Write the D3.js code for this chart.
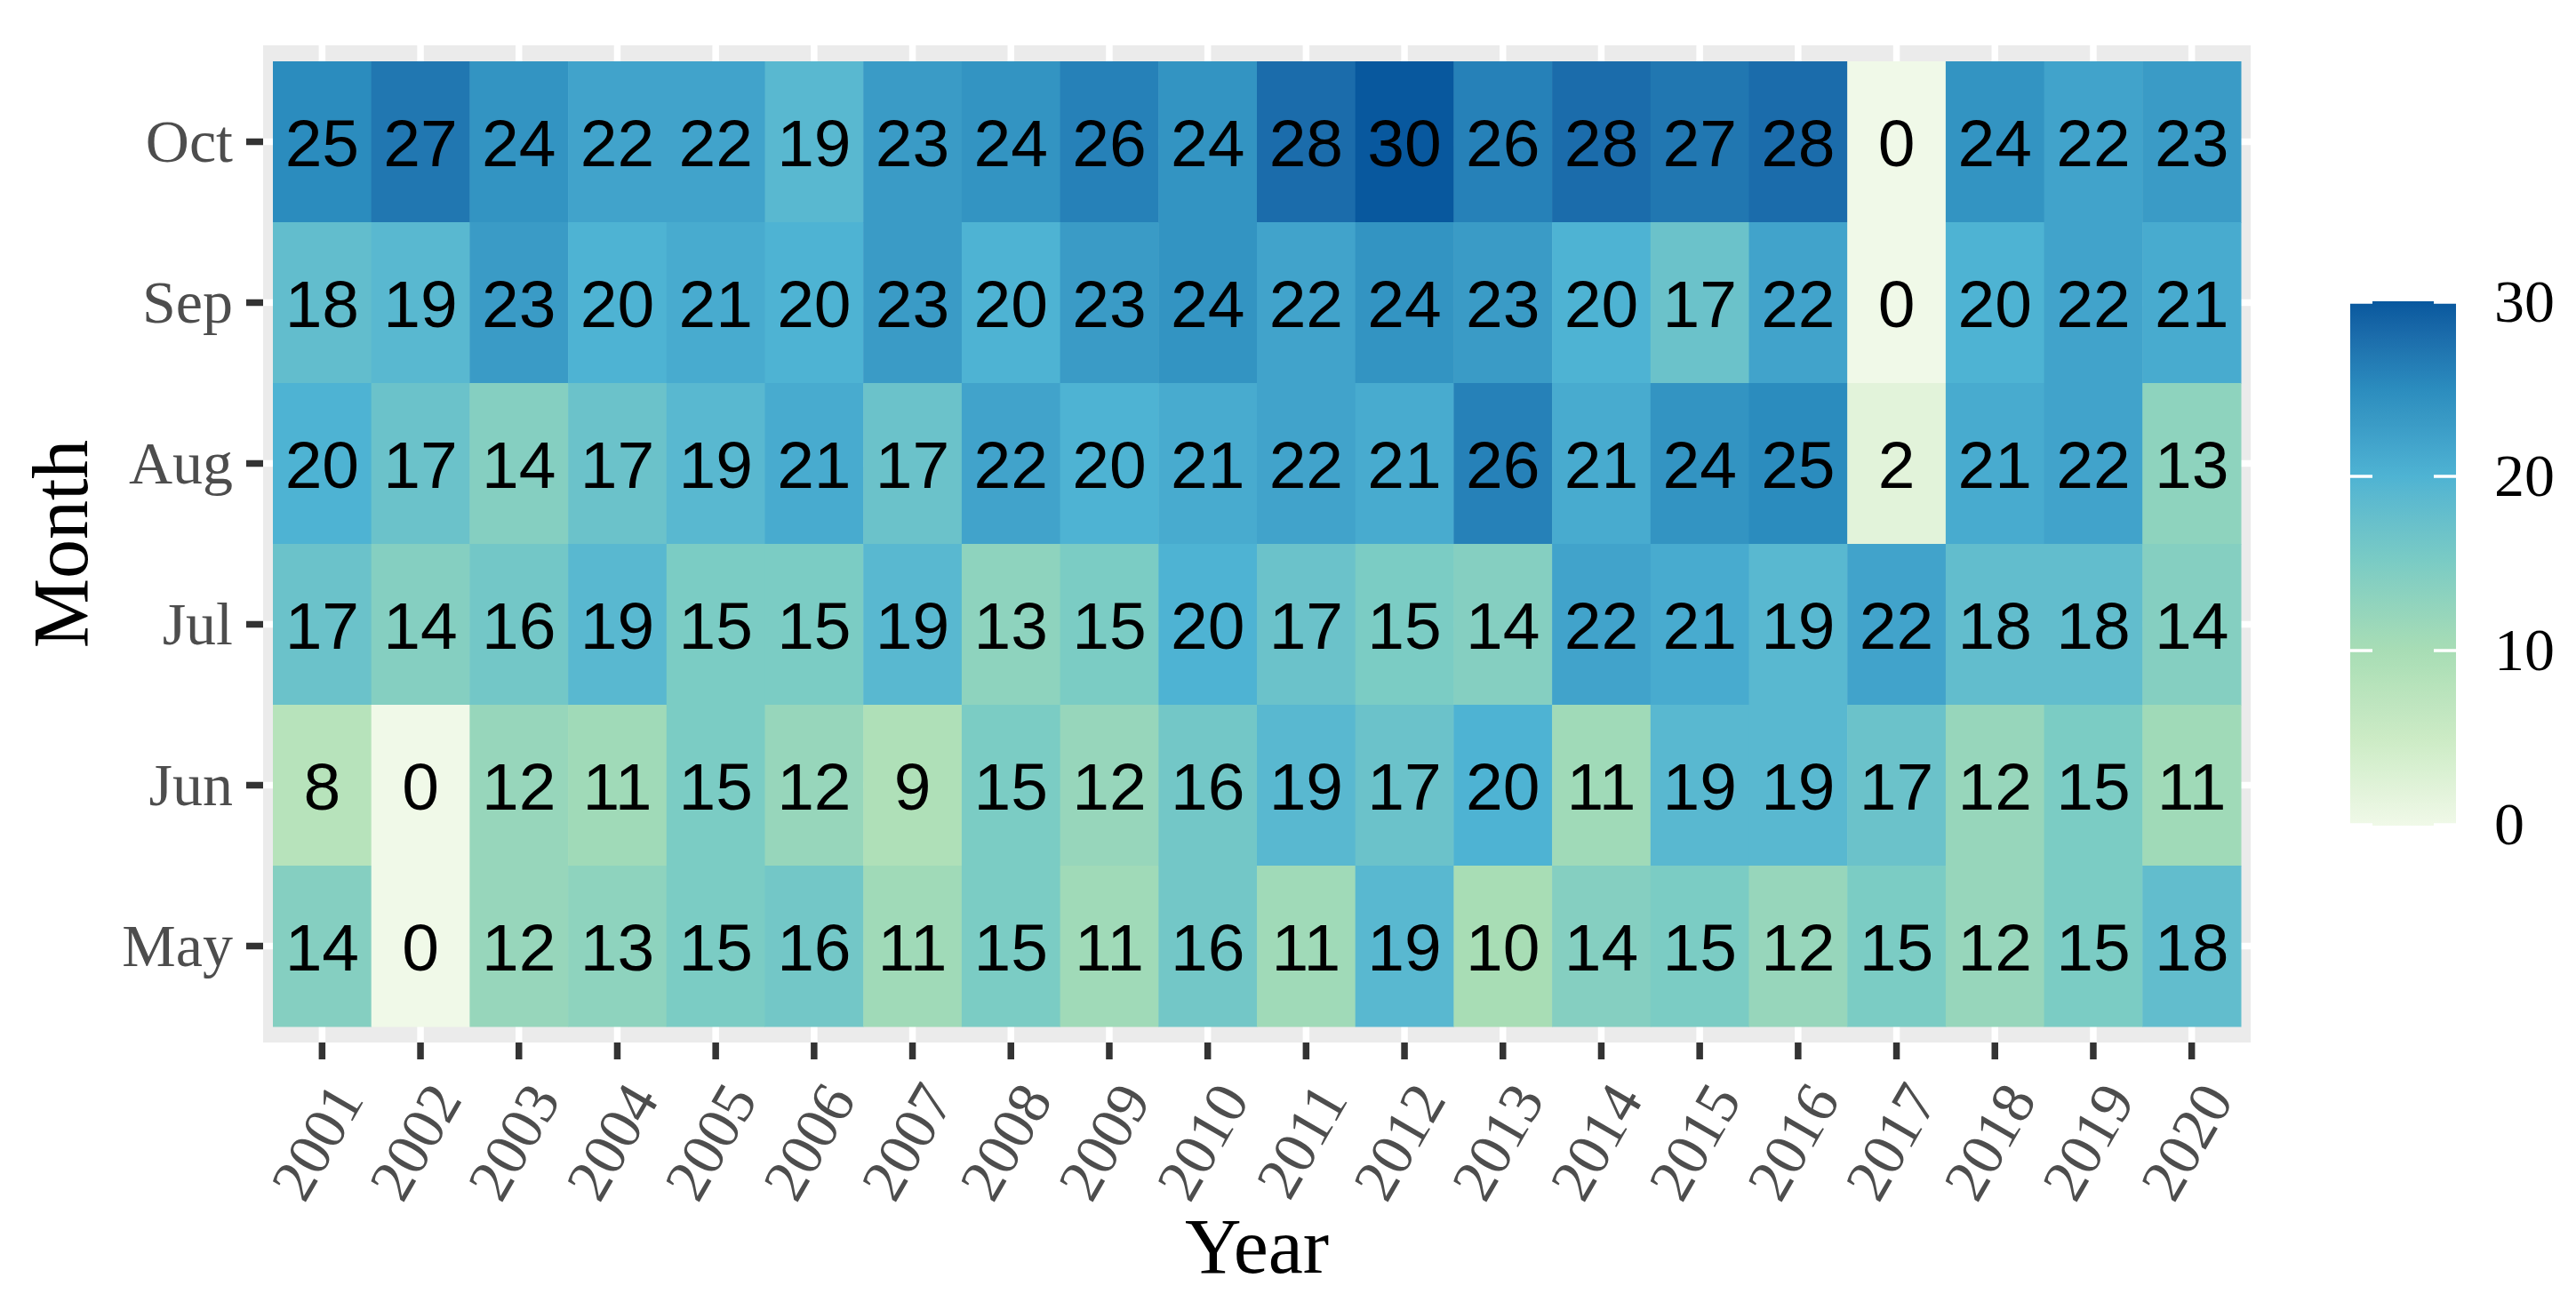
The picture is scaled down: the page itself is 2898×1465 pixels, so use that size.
<!DOCTYPE html>
<html>
<head>
<meta charset="utf-8">
<script src="https://cdn.jsdelivr.net/npm/d3@7"></script>
<style>
	html, body { margin: 0; padding: 0; background: #fff; }
	svg { display: block; }
</style>
</head>
<body>
<svg id="chart" width="2898" height="1465"></svg>
<script>
	// data
	var years = ['2001', '2002', '2003', '2004', '2005', '2006', '2007', '2008', '2009', '2010',
		'2011', '2012', '2013', '2014', '2015', '2016', '2017', '2018', '2019', '2020'];
	var months = ['Oct', 'Sep', 'Aug', 'Jul', 'Jun', 'May'];

	var octValues = [25, 27, 24, 22, 22, 19, 23, 24, 26, 24, 28, 30, 26, 28, 27, 28, 0, 24, 22, 23];
	var sepValues = [18, 19, 23, 20, 21, 20, 23, 20, 23, 24, 22, 24, 23, 20, 17, 22, 0, 20, 22, 21];
	var augValues = [20, 17, 14, 17, 19, 21, 17, 22, 20, 21, 22, 21, 26, 21, 24, 25, 2, 21, 22, 13];
	var julValues = [17, 14, 16, 19, 15, 15, 19, 13, 15, 20, 17, 15, 14, 22, 21, 19, 22, 18, 18, 14];
	var junValues = [8, 0, 12, 11, 15, 12, 9, 15, 12, 16, 19, 17, 20, 11, 19, 19, 17, 12, 15, 11];
	var mayValues = [14, 0, 12, 13, 15, 16, 11, 15, 11, 16, 11, 19, 10, 14, 15, 12, 15, 12, 15, 18];

	var legendTicks = [0, 10, 20, 30];
	// GnBu, 7 classes (as scale_fill_distiller)
	var palette = ['#F0F9E8', '#CCEBC5', '#A8DDB5', '#7BCCC4', '#4EB3D3', '#2B8CBE', '#08589E'];

	var rows = {Oct: octValues, Sep: sepValues, Aug: augValues, Jul: julValues, Jun: junValues, May: mayValues};
	var cells = [];
	months.forEach(function(m) {
		rows[m].forEach(function(v, i) {
			cells.push({month: m, year: years[i], value: v});
		});
	});

	var serif = '"Liberation Serif", "Times New Roman", Times, serif';
	var sans = '"Liberation Sans", Arial, Helvetica, sans-serif';

	var svg = d3.select('#chart');

	var x = d3.scaleBand().domain(years).range([307, 2521]);
	var y = d3.scaleBand().domain(months).range([69, 1155]);
	var color = d3.scaleSequential(d3.piecewise(d3.interpolateLab, palette)).domain([0, 30]);

	var panel = {left: 296, right: 2532, top: 51, bottom: 1173};

	// panel background + grid
	svg.append('rect')
		.attr('x', panel.left)
		.attr('y', panel.top)
		.attr('width', panel.right - panel.left)
		.attr('height', panel.bottom - panel.top)
		.attr('fill', '#EBEBEB');

	var grid = svg.append('g').attr('class', 'grid');
	grid.selectAll('line.gx')
		.data(years)
		.enter().append('line')
			.attr('class', 'gx')
			.attr('x1', function(d) { return x(d) + x.bandwidth() / 2; })
			.attr('x2', function(d) { return x(d) + x.bandwidth() / 2; })
			.attr('y1', panel.top)
			.attr('y2', panel.bottom)
			.attr('stroke', '#fff')
			.attr('stroke-width', 7.5);
	grid.selectAll('line.gy')
		.data(months)
		.enter().append('line')
			.attr('class', 'gy')
			.attr('x1', panel.left)
			.attr('x2', panel.right)
			.attr('y1', function(d) { return y(d) + y.bandwidth() / 2; })
			.attr('y2', function(d) { return y(d) + y.bandwidth() / 2; })
			.attr('stroke', '#fff')
			.attr('stroke-width', 7.5);

	// tiles
	var tiles = svg.append('g').attr('class', 'tiles');
	tiles.selectAll('rect')
		.data(cells)
		.enter().append('rect')
			.attr('x', function(d) { return x(d.year); })
			.attr('y', function(d) { return y(d.month); })
			.attr('width', x.bandwidth() + 0.5)
			.attr('height', y.bandwidth() + 0.5)
			.attr('fill', function(d) { return color(d.value); });

	tiles.selectAll('text')
		.data(cells)
		.enter().append('text')
			.attr('x', function(d) { return x(d.year) + x.bandwidth() / 2; })
			.attr('y', function(d) { return y(d.month) + y.bandwidth() / 2 + 27; })
			.attr('text-anchor', 'middle')
			.attr('font-family', sans)
			.attr('font-size', 75)
			.attr('fill', '#000')
			.text(function(d) { return d.value; });

	// y axis
	var yAxis = svg.append('g')
		.attr('transform', 'translate(' + panel.left + ',0)')
		.call(d3.axisLeft(y).tickSize(19).tickPadding(15));
	yAxis.select('.domain').remove();
	yAxis.selectAll('.tick line').attr('stroke', '#333333').attr('stroke-width', 7.5);
	yAxis.selectAll('.tick text')
		.attr('font-family', serif)
		.attr('font-size', 68)
		.attr('fill', '#4D4D4D')
		.attr('dy', '0.33em');

	// x axis, labels turned 60 degrees
	var xAxis = svg.append('g')
		.attr('transform', 'translate(0,' + panel.bottom + ')')
		.call(d3.axisBottom(x).tickSize(19).tickPadding(0));
	xAxis.select('.domain').remove();
	xAxis.selectAll('.tick line').attr('stroke', '#333333').attr('stroke-width', 7.5);
	xAxis.selectAll('.tick text')
		.attr('font-family', serif)
		.attr('font-size', 68)
		.attr('fill', '#4D4D4D')
		.attr('text-anchor', 'end')
		.attr('x', 0)
		.attr('y', 0)
		.attr('dy', '0.68em')
		.attr('transform', 'translate(8,41) rotate(-60)');

	// axis titles
	svg.append('text')
		.attr('transform', 'translate(98,' + ((panel.top + panel.bottom) / 2) + ') rotate(-90)')
		.attr('text-anchor', 'middle')
		.attr('font-family', serif)
		.attr('font-size', 88)
		.attr('fill', '#000')
		.text('Month');

	svg.append('text')
		.attr('x', (panel.left + panel.right) / 2)
		.attr('y', 1432)
		.attr('text-anchor', 'middle')
		.attr('font-family', serif)
		.attr('font-size', 88)
		.attr('fill', '#000')
		.text('Year');

	// colour bar legend
	var ly = d3.scaleLinear().domain([0, 30]).range([928, 340]);
	var bar = {left: 2644, width: 119};

	var grad = svg.append('defs').append('linearGradient')
		.attr('id', 'bar-grad')
		.attr('x1', 0).attr('y1', 1).attr('x2', 0).attr('y2', 0);
	grad.selectAll('stop')
		.data(d3.range(0, 31))
		.enter().append('stop')
			.attr('offset', function(d) { return d / 30; })
			.attr('stop-color', function(d) { return color(d); });

	var legend = svg.append('g').attr('class', 'legend');
	legend.append('rect')
		.attr('x', bar.left)
		.attr('y', ly(30) - 1)
		.attr('width', bar.width)
		.attr('height', ly(0) - ly(30) + 2)
		.attr('fill', 'url(#bar-grad)');

	legend.selectAll('line.tl')
		.data(legendTicks)
		.enter().append('line')
			.attr('class', 'tl')
			.attr('x1', bar.left)
			.attr('x2', bar.left + 25)
			.attr('y1', function(d) { return ly(d); })
			.attr('y2', function(d) { return ly(d); })
			.attr('stroke', '#fff')
			.attr('stroke-width', 3.5);
	legend.selectAll('line.tr')
		.data(legendTicks)
		.enter().append('line')
			.attr('class', 'tr')
			.attr('x1', bar.left + bar.width - 25)
			.attr('x2', bar.left + bar.width)
			.attr('y1', function(d) { return ly(d); })
			.attr('y2', function(d) { return ly(d); })
			.attr('stroke', '#fff')
			.attr('stroke-width', 3.5);

	legend.selectAll('text')
		.data(legendTicks)
		.enter().append('text')
			.attr('x', 2806)
			.attr('y', function(d) { return ly(d); })
			.attr('dy', '0.33em')
			.attr('font-family', serif)
			.attr('font-size', 68)
			.attr('fill', '#000')
			.text(function(d) { return d; });
</script>
</body>
</html>
